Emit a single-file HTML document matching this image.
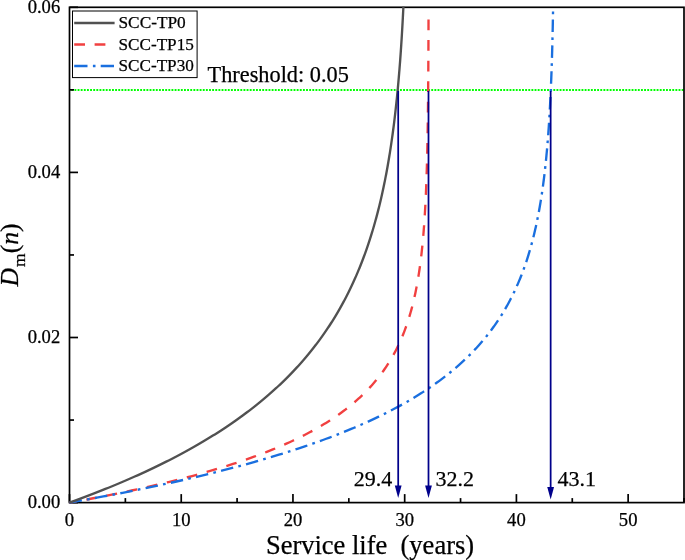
<!DOCTYPE html>
<html><head><meta charset="utf-8"><style>
html,body{margin:0;padding:0;background:#fff;}
svg{display:block;font-family:"Liberation Serif",serif;}
svg{will-change:transform;transform:translateZ(0);}
text{stroke:#000;stroke-width:0.25px;}
</style></head><body>
<svg width="685" height="560" viewBox="0 0 685 560">
<rect width="685" height="560" fill="#fff"/>
<line x1="69.5" x2="684.0" y1="90" y2="90" stroke="#00ff00" stroke-width="2" stroke-dasharray="1.9 1.23" stroke-dashoffset="1.32"/>
<g stroke="#000" stroke-width="1.7"><line x1="69.50" x2="69.50" y1="502.6" y2="494.1"/><line x1="125.36" x2="125.36" y1="502.6" y2="498.1"/><line x1="181.23" x2="181.23" y1="502.6" y2="494.1"/><line x1="237.09" x2="237.09" y1="502.6" y2="498.1"/><line x1="292.95" x2="292.95" y1="502.6" y2="494.1"/><line x1="348.82" x2="348.82" y1="502.6" y2="498.1"/><line x1="404.68" x2="404.68" y1="502.6" y2="494.1"/><line x1="460.55" x2="460.55" y1="502.6" y2="498.1"/><line x1="516.41" x2="516.41" y1="502.6" y2="494.1"/><line x1="572.27" x2="572.27" y1="502.6" y2="498.1"/><line x1="628.14" x2="628.14" y1="502.6" y2="494.1"/><line x1="684.00" x2="684.00" y1="502.6" y2="498.1"/><line x1="69.5" x2="78.0" y1="502.60" y2="502.60"/><line x1="69.5" x2="74.0" y1="420.05" y2="420.05"/><line x1="69.5" x2="78.0" y1="337.50" y2="337.50"/><line x1="69.5" x2="74.0" y1="254.95" y2="254.95"/><line x1="69.5" x2="78.0" y1="172.40" y2="172.40"/><line x1="69.5" x2="74.0" y1="89.85" y2="89.85"/><line x1="69.5" x2="78.0" y1="7.30" y2="7.30"/></g>
<rect x="69.5" y="7.3" width="614.5" height="495.3" fill="none" stroke="#000" stroke-width="1.7"/>
<g fill="none" stroke-width="2.35" stroke-linecap="butt" stroke-linejoin="round">
<path d="M69.50,502.60 L76.25,501.39 L82.88,500.18 L89.38,498.98 L95.76,497.77 L102.01,496.56 L108.15,495.35 L114.18,494.15 L120.09,492.94 L125.89,491.73 L131.58,490.52 L137.17,489.32 L142.65,488.11 L148.03,486.90 L153.30,485.69 L158.48,484.48 L163.56,483.28 L168.54,482.07 L173.43,480.86 L178.23,479.65 L182.94,478.45 L187.56,477.24 L192.09,476.03 L196.54,474.82 L200.90,473.62 L205.18,472.41 L209.38,471.20 L213.51,469.99 L217.55,468.78 L221.52,467.58 L225.41,466.37 L229.24,465.16 L232.98,463.95 L236.66,462.75 L240.27,461.54 L243.82,460.33 L247.29,459.12 L250.70,457.91 L254.05,456.71 L257.33,455.50 L260.55,454.29 L263.71,453.08 L266.81,451.88 L269.86,450.67 L272.84,449.46 L275.77,448.25 L278.65,447.05 L281.47,445.84 L284.23,444.63 L286.95,443.42 L289.61,442.21 L292.23,441.01 L294.79,439.80 L297.31,438.59 L299.78,437.38 L302.20,436.18 L304.58,434.97 L306.91,433.76 L309.20,432.55 L311.45,431.35 L313.65,430.14 L315.82,428.93 L317.94,427.72 L320.02,426.51 L322.06,425.31 L324.07,424.10 L326.03,422.89 L327.96,421.68 L329.86,420.48 L331.72,419.27 L333.54,418.06 L335.33,416.85 L337.08,415.65 L338.80,414.44 L340.49,413.23 L342.15,412.02 L343.78,410.81 L345.38,409.61 L346.94,408.40 L348.48,407.19 L349.99,405.98 L351.47,404.78 L352.92,403.57 L354.34,402.36 L355.74,401.15 L357.11,399.94 L358.46,398.74 L359.78,397.53 L361.07,396.32 L362.34,395.11 L363.59,393.91 L364.82,392.70 L366.02,391.49 L367.19,390.28 L368.35,389.08 L369.48,387.87 L370.60,386.66 L371.69,385.45 L372.76,384.24 L373.81,383.04 L374.85,381.83 L375.86,380.62 L376.85,379.41 L377.83,378.21 L378.78,377.00 L379.72,375.79 L380.64,374.58 L381.54,373.38 L382.43,372.17 L383.30,370.96 L384.15,369.75 L384.99,368.54 L385.81,367.34 L386.62,366.13 L387.41,364.92 L388.19,363.71 L388.95,362.51 L389.69,361.30 L390.43,360.09 L391.15,358.88 L391.85,357.68 L392.55,356.47 L393.23,355.26 L393.89,354.05 L394.55,352.84 L395.19,351.64 L395.82,350.43 L396.44,349.22 L397.04,348.01 L397.64,346.81 L398.22,345.60 L398.80,344.39 L399.36,343.18 L399.91,341.98 L400.45,340.77 L400.98,339.56 L401.50,338.35 L402.01,337.14 L402.52,335.94 L403.01,334.73 L403.49,333.52 L403.96,332.31 L404.43,331.11 L404.89,329.90 L405.33,328.69 L405.77,327.48 L406.20,326.27 L406.63,325.07 L407.04,323.86 L407.45,322.65 L407.85,321.44 L408.24,320.24 L408.62,319.03 L409.00,317.82 L409.37,316.61 L409.74,315.41 L410.09,314.20 L410.44,312.99 L410.79,311.78 L411.12,310.57 L411.45,309.37 L411.78,308.16 L412.10,306.95 L412.41,305.74 L412.71,304.54 L413.01,303.33 L413.31,302.12 L413.60,300.91 L413.88,299.71 L414.16,298.50 L414.43,297.29 L414.70,296.08 L414.97,294.87 L415.22,293.67 L415.48,292.46 L415.73,291.25 L415.97,290.04 L416.21,288.84 L416.44,287.63 L416.67,286.42 L416.90,285.21 L417.12,284.01 L417.34,282.80 L417.55,281.59 L417.76,280.38 L417.97,279.17 L418.17,277.97 L418.37,276.76 L418.56,275.55 L418.75,274.34 L418.94,273.14 L419.12,271.93 L419.30,270.72 L419.48,269.51 L419.65,268.30 L419.82,267.10 L419.99,265.89 L420.15,264.68 L420.32,263.47 L420.47,262.27 L420.63,261.06 L420.78,259.85 L420.93,258.64 L421.07,257.44 L421.22,256.23 L421.36,255.02 L421.50,253.81 L421.63,252.60 L421.77,251.40 L421.90,250.19 L422.02,248.98 L422.15,247.77 L422.27,246.57 L422.39,245.36 L422.51,244.15 L422.63,242.94 L422.74,241.74 L422.85,240.53 L422.96,239.32 L423.07,238.11 L423.18,236.90 L423.28,235.70 L423.38,234.49 L423.48,233.28 L423.58,232.07 L423.68,230.87 L423.77,229.66 L423.87,228.45 L423.96,227.24 L424.05,226.04 L424.13,224.83 L424.22,223.62 L424.30,222.41 L424.39,221.20 L424.47,220.00 L424.55,218.79 L424.62,217.58 L424.70,216.37 L424.78,215.17 L424.85,213.96 L424.92,212.75 L424.99,211.54 L425.06,210.34 L425.13,209.13 L425.20,207.92 L425.27,206.71 L425.33,205.50 L425.39,204.30 L425.46,203.09 L425.52,201.88 L425.58,200.67 L425.64,199.47 L425.69,198.26 L425.75,197.05 L425.80,195.84 L425.86,194.63 L425.91,193.43 L425.97,192.22 L426.02,191.01 L426.07,189.80 L426.12,188.60 L426.17,187.39 L426.21,186.18 L426.26,184.97 L426.31,183.77 L426.35,182.56 L426.40,181.35 L426.44,180.14 L426.48,178.93 L426.52,177.73 L426.56,176.52 L426.60,175.31 L426.64,174.10 L426.68,172.90 L426.72,171.69 L426.76,170.48 L426.79,169.27 L426.83,168.07 L426.87,166.86 L426.90,165.65 L426.93,164.44 L426.97,163.23 L427.00,162.03 L427.03,160.82 L427.06,159.61 L427.09,158.40 L427.12,157.20 L427.15,155.99 L427.18,154.78 L427.21,153.57 L427.24,152.37 L427.27,151.16 L427.29,149.95 L427.32,148.74 L427.35,147.53 L427.37,146.33 L427.40,145.12 L427.42,143.91 L427.45,142.70 L427.47,141.50 L427.49,140.29 L427.52,139.08 L427.54,137.87 L427.56,136.66 L427.58,135.46 L427.60,134.25 L427.62,133.04 L427.64,131.83 L427.66,130.63 L427.68,129.42 L427.70,128.21 L427.72,127.00 L427.74,125.80 L427.76,124.59 L427.77,123.38 L427.79,122.17 L427.81,120.96 L427.83,119.76 L427.84,118.55 L427.86,117.34 L427.87,116.13 L427.89,114.93 L427.91,113.72 L427.92,112.51 L427.94,111.30 L427.95,110.10 L427.96,108.89 L427.98,107.68 L427.99,106.47 L428.00,105.26 L428.02,104.06 L428.03,102.85 L428.04,101.64 L428.06,100.43 L428.07,99.23 L428.08,98.02 L428.09,96.81 L428.10,95.60 L428.11,94.40 L428.13,93.19 L428.14,91.98 L428.15,90.77 L428.16,89.56 L428.17,88.36 L428.18,87.15 L428.19,85.94 L428.20,84.73 L428.21,83.53 L428.22,82.32 L428.23,81.11 L428.23,79.90 L428.24,78.70 L428.25,77.49 L428.26,76.28 L428.27,75.07 L428.28,73.86 L428.28,72.66 L428.29,71.45 L428.30,70.24 L428.31,69.03 L428.32,67.83 L428.32,66.62 L428.33,65.41 L428.34,64.20 L428.34,62.99 L428.35,61.79 L428.36,60.58 L428.36,59.37 L428.37,58.16 L428.38,56.96 L428.38,55.75 L428.39,54.54 L428.39,53.33 L428.40,52.13 L428.41,50.92 L428.41,49.71 L428.42,48.50 L428.42,47.29 L428.43,46.09 L428.43,44.88 L428.44,43.67 L428.44,42.46 L428.45,41.26 L428.45,40.05 L428.46,38.84 L428.46,37.63 L428.47,36.43 L428.47,35.22 L428.48,34.01 L428.48,32.80 L428.48,31.59 L428.49,30.39 L428.49,29.18 L428.50,27.97 L428.50,26.76 L428.50,25.56 L428.51,24.35 L428.51,23.14 L428.51,21.93 L428.52,20.73 L428.52,19.52" stroke="#f14040" stroke-dasharray="10.74 9.84" stroke-dashoffset="3.47"/>
<path d="M69.50,502.60 L76.48,501.37 L83.36,500.14 L90.14,498.92 L96.82,497.69 L103.40,496.46 L109.89,495.23 L116.29,494.01 L122.60,492.78 L128.81,491.55 L134.94,490.32 L140.97,489.10 L146.92,487.87 L152.79,486.64 L158.57,485.41 L164.27,484.19 L169.88,482.96 L175.42,481.73 L180.87,480.50 L186.25,479.28 L191.54,478.05 L196.77,476.82 L201.91,475.59 L206.99,474.37 L211.99,473.14 L216.92,471.91 L221.77,470.68 L226.56,469.46 L231.28,468.23 L235.93,467.00 L240.52,465.77 L245.03,464.55 L249.49,463.32 L253.87,462.09 L258.20,460.86 L262.46,459.64 L266.67,458.41 L270.81,457.18 L274.89,455.95 L278.91,454.73 L282.88,453.50 L286.79,452.27 L290.64,451.04 L294.44,449.82 L298.18,448.59 L301.87,447.36 L305.50,446.13 L309.08,444.91 L312.62,443.68 L316.10,442.45 L319.53,441.22 L322.91,440.00 L326.24,438.77 L329.52,437.54 L332.76,436.31 L335.95,435.09 L339.10,433.86 L342.20,432.63 L345.25,431.40 L348.26,430.18 L351.23,428.95 L354.15,427.72 L357.04,426.49 L359.88,425.27 L362.68,424.04 L365.44,422.81 L368.16,421.58 L370.84,420.36 L373.48,419.13 L376.09,417.90 L378.66,416.67 L381.19,415.45 L383.68,414.22 L386.14,412.99 L388.56,411.76 L390.95,410.54 L393.30,409.31 L395.62,408.08 L397.91,406.85 L400.16,405.63 L402.38,404.40 L404.57,403.17 L406.73,401.94 L408.85,400.72 L410.95,399.49 L413.02,398.26 L415.05,397.03 L417.06,395.81 L419.04,394.58 L420.99,393.35 L422.91,392.12 L424.80,390.90 L426.67,389.67 L428.51,388.44 L430.32,387.21 L432.11,385.99 L433.87,384.76 L435.60,383.53 L437.31,382.30 L439.00,381.08 L440.66,379.85 L442.30,378.62 L443.91,377.39 L445.51,376.17 L447.07,374.94 L448.62,373.71 L450.14,372.48 L451.65,371.26 L453.13,370.03 L454.58,368.80 L456.02,367.57 L457.44,366.35 L458.84,365.12 L460.21,363.89 L461.57,362.66 L462.91,361.44 L464.22,360.21 L465.52,358.98 L466.80,357.75 L468.07,356.53 L469.31,355.30 L470.54,354.07 L471.74,352.84 L472.93,351.62 L474.11,350.39 L475.27,349.16 L476.41,347.93 L477.53,346.71 L478.64,345.48 L479.73,344.25 L480.80,343.02 L481.86,341.80 L482.91,340.57 L483.94,339.34 L484.96,338.11 L485.96,336.89 L486.94,335.66 L487.92,334.43 L488.87,333.20 L489.82,331.97 L490.75,330.75 L491.67,329.52 L492.57,328.29 L493.46,327.06 L494.34,325.84 L495.21,324.61 L496.06,323.38 L496.90,322.15 L497.73,320.93 L498.55,319.70 L499.35,318.47 L500.14,317.24 L500.93,316.02 L501.70,314.79 L502.46,313.56 L503.21,312.33 L503.94,311.11 L504.67,309.88 L505.39,308.65 L506.10,307.42 L506.79,306.20 L507.48,304.97 L508.16,303.74 L508.82,302.51 L509.48,301.29 L510.13,300.06 L510.77,298.83 L511.40,297.60 L512.02,296.38 L512.63,295.15 L513.23,293.92 L513.82,292.69 L514.41,291.47 L514.99,290.24 L515.56,289.01 L516.12,287.78 L516.67,286.56 L517.21,285.33 L517.75,284.10 L518.28,282.87 L518.80,281.65 L519.31,280.42 L519.82,279.19 L520.32,277.96 L520.81,276.74 L521.30,275.51 L521.77,274.28 L522.24,273.05 L522.71,271.83 L523.17,270.60 L523.62,269.37 L524.06,268.14 L524.50,266.92 L524.93,265.69 L525.36,264.46 L525.78,263.23 L526.19,262.01 L526.60,260.78 L527.00,259.55 L527.39,258.32 L527.78,257.10 L528.17,255.87 L528.55,254.64 L528.92,253.41 L529.29,252.19 L529.65,250.96 L530.01,249.73 L530.36,248.50 L530.71,247.28 L531.05,246.05 L531.39,244.82 L531.72,243.59 L532.05,242.37 L532.37,241.14 L532.69,239.91 L533.01,238.68 L533.32,237.46 L533.62,236.23 L533.92,235.00 L534.22,233.77 L534.51,232.55 L534.80,231.32 L535.08,230.09 L535.36,228.86 L535.64,227.64 L535.91,226.41 L536.18,225.18 L536.44,223.95 L536.70,222.73 L536.96,221.50 L537.21,220.27 L537.46,219.04 L537.70,217.82 L537.94,216.59 L538.18,215.36 L538.42,214.13 L538.65,212.91 L538.88,211.68 L539.10,210.45 L539.32,209.22 L539.54,208.00 L539.76,206.77 L539.97,205.54 L540.18,204.31 L540.38,203.09 L540.59,201.86 L540.79,200.63 L540.99,199.40 L541.18,198.18 L541.37,196.95 L541.56,195.72 L541.75,194.49 L541.93,193.27 L542.11,192.04 L542.29,190.81 L542.47,189.58 L542.64,188.36 L542.81,187.13 L542.98,185.90 L543.14,184.67 L543.31,183.45 L543.47,182.22 L543.63,180.99 L543.78,179.76 L543.94,178.54 L544.09,177.31 L544.24,176.08 L544.39,174.85 L544.53,173.63 L544.68,172.40 L544.82,171.17 L544.96,169.94 L545.10,168.71 L545.23,167.49 L545.36,166.26 L545.50,165.03 L545.63,163.80 L545.75,162.58 L545.88,161.35 L546.00,160.12 L546.13,158.89 L546.25,157.67 L546.37,156.44 L546.48,155.21 L546.60,153.98 L546.71,152.76 L546.82,151.53 L546.93,150.30 L547.04,149.07 L547.15,147.85 L547.26,146.62 L547.36,145.39 L547.46,144.16 L547.57,142.94 L547.67,141.71 L547.76,140.48 L547.86,139.25 L547.96,138.03 L548.05,136.80 L548.14,135.57 L548.24,134.34 L548.33,133.12 L548.41,131.89 L548.50,130.66 L548.59,129.43 L548.67,128.21 L548.76,126.98 L548.84,125.75 L548.92,124.52 L549.00,123.30 L549.08,122.07 L549.16,120.84 L549.24,119.61 L549.31,118.39 L549.39,117.16 L549.46,115.93 L549.53,114.70 L549.61,113.48 L549.68,112.25 L549.75,111.02 L549.81,109.79 L549.88,108.57 L549.95,107.34 L550.01,106.11 L550.08,104.88 L550.14,103.66 L550.20,102.43 L550.27,101.20 L550.33,99.97 L550.39,98.75 L550.45,97.52 L550.51,96.29 L550.56,95.06 L550.62,93.84 L550.68,92.61 L550.73,91.38 L550.79,90.15 L550.84,88.93 L550.89,87.70 L550.94,86.47 L551.00,85.24 L551.05,84.02 L551.10,82.79 L551.14,81.56 L551.19,80.33 L551.24,79.11 L551.29,77.88 L551.33,76.65 L551.38,75.42 L551.42,74.20 L551.47,72.97 L551.51,71.74 L551.56,70.51 L551.60,69.29 L551.64,68.06 L551.68,66.83 L551.72,65.60 L551.76,64.38 L551.80,63.15 L551.84,61.92 L551.88,60.69 L551.92,59.47 L551.95,58.24 L551.99,57.01 L552.03,55.78 L552.06,54.56 L552.10,53.33 L552.13,52.10 L552.17,50.87 L552.20,49.65 L552.23,48.42 L552.27,47.19 L552.30,45.96 L552.33,44.74 L552.36,43.51 L552.39,42.28 L552.42,41.05 L552.45,39.83 L552.48,38.60 L552.51,37.37 L552.54,36.14 L552.57,34.92 L552.60,33.69 L552.62,32.46 L552.65,31.23 L552.68,30.01 L552.70,28.78 L552.73,27.55 L552.76,26.32 L552.78,25.10 L552.81,23.87 L552.83,22.64 L552.85,21.41 L552.88,20.19 L552.90,18.96 L552.93,17.73 L552.95,16.50 L552.97,15.28 L552.99,14.05 L553.01,12.82 L553.04,11.59" stroke="#1a6fdf" stroke-dasharray="12.51 5.31 2.68 5.31" stroke-dashoffset="25.77"/>
</g>
<path d="M69.50,502.60 L72.93,501.36 L76.33,500.12 L79.69,498.88 L83.02,497.64 L86.32,496.40 L89.58,495.16 L92.81,493.92 L96.00,492.68 L99.17,491.44 L102.30,490.20 L105.40,488.96 L108.47,487.72 L111.51,486.48 L114.52,485.24 L117.49,484.00 L120.44,482.75 L123.36,481.51 L126.24,480.27 L129.10,479.03 L131.93,477.79 L134.73,476.55 L137.51,475.31 L140.25,474.07 L142.97,472.83 L145.66,471.59 L148.32,470.35 L150.96,469.11 L153.57,467.87 L156.15,466.63 L158.71,465.39 L161.24,464.15 L163.74,462.91 L166.22,461.67 L168.68,460.43 L171.11,459.19 L173.51,457.95 L175.89,456.71 L178.25,455.47 L180.58,454.23 L182.89,452.99 L185.18,451.75 L187.44,450.51 L189.68,449.27 L191.90,448.03 L194.10,446.79 L196.27,445.55 L198.42,444.31 L200.55,443.06 L202.66,441.82 L204.75,440.58 L206.81,439.34 L208.86,438.10 L210.88,436.86 L212.89,435.62 L214.87,434.38 L216.83,433.14 L218.78,431.90 L220.70,430.66 L222.60,429.42 L224.49,428.18 L226.36,426.94 L228.20,425.70 L230.03,424.46 L231.84,423.22 L233.64,421.98 L235.41,420.74 L237.17,419.50 L238.90,418.26 L240.62,417.02 L242.33,415.78 L244.01,414.54 L245.68,413.30 L247.34,412.06 L248.97,410.82 L250.59,409.58 L252.19,408.34 L253.78,407.10 L255.35,405.86 L256.90,404.62 L258.44,403.37 L259.97,402.13 L261.47,400.89 L262.97,399.65 L264.44,398.41 L265.91,397.17 L267.36,395.93 L268.79,394.69 L270.21,393.45 L271.61,392.21 L273.00,390.97 L274.38,389.73 L275.74,388.49 L277.09,387.25 L278.43,386.01 L279.75,384.77 L281.05,383.53 L282.35,382.29 L283.63,381.05 L284.90,379.81 L286.16,378.57 L287.40,377.33 L288.63,376.09 L289.85,374.85 L291.06,373.61 L292.25,372.37 L293.43,371.13 L294.60,369.89 L295.76,368.65 L296.91,367.41 L298.04,366.17 L299.16,364.93 L300.28,363.68 L301.38,362.44 L302.47,361.20 L303.55,359.96 L304.61,358.72 L305.67,357.48 L306.72,356.24 L307.75,355.00 L308.78,353.76 L309.79,352.52 L310.80,351.28 L311.79,350.04 L312.78,348.80 L313.75,347.56 L314.72,346.32 L315.67,345.08 L316.62,343.84 L317.55,342.60 L318.48,341.36 L319.40,340.12 L320.30,338.88 L321.20,337.64 L322.09,336.40 L322.97,335.16 L323.84,333.92 L324.71,332.68 L325.56,331.44 L326.41,330.20 L327.24,328.96 L328.07,327.72 L328.89,326.48 L329.70,325.24 L330.51,323.99 L331.30,322.75 L332.09,321.51 L332.87,320.27 L333.64,319.03 L334.40,317.79 L335.16,316.55 L335.91,315.31 L336.65,314.07 L337.38,312.83 L338.11,311.59 L338.83,310.35 L339.54,309.11 L340.24,307.87 L340.94,306.63 L341.63,305.39 L342.31,304.15 L342.99,302.91 L343.66,301.67 L344.32,300.43 L344.98,299.19 L345.63,297.95 L346.27,296.71 L346.91,295.47 L347.54,294.23 L348.16,292.99 L348.78,291.75 L349.39,290.51 L349.99,289.27 L350.59,288.03 L351.18,286.79 L351.77,285.55 L352.35,284.30 L352.93,283.06 L353.50,281.82 L354.06,280.58 L354.62,279.34 L355.17,278.10 L355.71,276.86 L356.26,275.62 L356.79,274.38 L357.32,273.14 L357.85,271.90 L358.36,270.66 L358.88,269.42 L359.39,268.18 L359.89,266.94 L360.39,265.70 L360.88,264.46 L361.37,263.22 L361.86,261.98 L362.34,260.74 L362.81,259.50 L363.28,258.26 L363.74,257.02 L364.20,255.78 L364.66,254.54 L365.11,253.30 L365.55,252.06 L366.00,250.82 L366.43,249.58 L366.87,248.34 L367.29,247.10 L367.72,245.86 L368.14,244.61 L368.55,243.37 L368.96,242.13 L369.37,240.89 L369.77,239.65 L370.17,238.41 L370.57,237.17 L370.96,235.93 L371.35,234.69 L371.73,233.45 L372.11,232.21 L372.48,230.97 L372.85,229.73 L373.22,228.49 L373.59,227.25 L373.95,226.01 L374.30,224.77 L374.66,223.53 L375.01,222.29 L375.35,221.05 L375.69,219.81 L376.03,218.57 L376.37,217.33 L376.70,216.09 L377.03,214.85 L377.36,213.61 L377.68,212.37 L378.00,211.13 L378.31,209.89 L378.63,208.65 L378.93,207.41 L379.24,206.17 L379.54,204.92 L379.84,203.68 L380.14,202.44 L380.44,201.20 L380.73,199.96 L381.02,198.72 L381.30,197.48 L381.58,196.24 L381.86,195.00 L382.14,193.76 L382.41,192.52 L382.68,191.28 L382.95,190.04 L383.22,188.80 L383.48,187.56 L383.74,186.32 L384.00,185.08 L384.26,183.84 L384.51,182.60 L384.76,181.36 L385.01,180.12 L385.25,178.88 L385.49,177.64 L385.73,176.40 L385.97,175.16 L386.21,173.92 L386.44,172.68 L386.67,171.44 L386.90,170.20 L387.12,168.96 L387.35,167.72 L387.57,166.47 L387.79,165.23 L388.00,163.99 L388.22,162.75 L388.43,161.51 L388.64,160.27 L388.85,159.03 L389.06,157.79 L389.26,156.55 L389.46,155.31 L389.66,154.07 L389.86,152.83 L390.06,151.59 L390.25,150.35 L390.44,149.11 L390.63,147.87 L390.82,146.63 L391.01,145.39 L391.19,144.15 L391.37,142.91 L391.55,141.67 L391.73,140.43 L391.91,139.19 L392.09,137.95 L392.26,136.71 L392.43,135.47 L392.60,134.23 L392.77,132.99 L392.94,131.75 L393.10,130.51 L393.26,129.27 L393.43,128.03 L393.59,126.78 L393.74,125.54 L393.90,124.30 L394.06,123.06 L394.21,121.82 L394.36,120.58 L394.51,119.34 L394.66,118.10 L394.81,116.86 L394.95,115.62 L395.10,114.38 L395.24,113.14 L395.38,111.90 L395.52,110.66 L395.66,109.42 L395.80,108.18 L395.94,106.94 L396.07,105.70 L396.20,104.46 L396.34,103.22 L396.47,101.98 L396.60,100.74 L396.72,99.50 L396.85,98.26 L396.98,97.02 L397.10,95.78 L397.22,94.54 L397.34,93.30 L397.46,92.06 L397.58,90.82 L397.70,89.58 L397.82,88.34 L397.93,87.09 L398.05,85.85 L398.16,84.61 L398.27,83.37 L398.38,82.13 L398.49,80.89 L398.60,79.65 L398.71,78.41 L398.82,77.17 L398.92,75.93 L399.03,74.69 L399.13,73.45 L399.23,72.21 L399.33,70.97 L399.44,69.73 L399.53,68.49 L399.63,67.25 L399.73,66.01 L399.83,64.77 L399.92,63.53 L400.02,62.29 L400.11,61.05 L400.20,59.81 L400.29,58.57 L400.38,57.33 L400.47,56.09 L400.56,54.85 L400.65,53.61 L400.74,52.37 L400.82,51.13 L400.91,49.89 L400.99,48.65 L401.08,47.40 L401.16,46.16 L401.24,44.92 L401.32,43.68 L401.40,42.44 L401.48,41.20 L401.56,39.96 L401.64,38.72 L401.71,37.48 L401.79,36.24 L401.87,35.00 L401.94,33.76 L402.02,32.52 L402.09,31.28 L402.16,30.04 L402.23,28.80 L402.30,27.56 L402.37,26.32 L402.44,25.08 L402.51,23.84 L402.58,22.60 L402.65,21.36 L402.71,20.12 L402.78,18.88 L402.85,17.64 L402.91,16.40 L402.98,15.16 L403.04,13.92 L403.10,12.68 L403.16,11.44 L403.23,10.20 L403.29,8.96 L403.35,7.71 L403.41,6.47" stroke="#515151" fill="none" stroke-width="2.35" stroke-linejoin="round"/>
<line x1="398.20" x2="398.20" y1="91" y2="487.6" stroke="#00008b" stroke-width="1.75"/><path d="M394.80,485.6 L401.60,485.6 L398.20,497.9 Z" fill="#00008b"/><line x1="428.50" x2="428.50" y1="91" y2="487.6" stroke="#00008b" stroke-width="1.75"/><path d="M425.10,485.6 L431.90,485.6 L428.50,497.9 Z" fill="#00008b"/><line x1="550.65" x2="550.65" y1="91" y2="488.9" stroke="#00008b" stroke-width="1.75"/><path d="M547.25,486.9 L554.05,486.9 L550.65,499.5 Z" fill="#00008b"/>
<g font-size="18.6px" fill="#000"><text x="69.50" y="525.7" text-anchor="middle">0</text><text x="181.23" y="525.7" text-anchor="middle">10</text><text x="292.95" y="525.7" text-anchor="middle">20</text><text x="404.68" y="525.7" text-anchor="middle">30</text><text x="516.41" y="525.7" text-anchor="middle">40</text><text x="628.14" y="525.7" text-anchor="middle">50</text><text x="60.2" y="508.20" text-anchor="end">0.00</text><text x="60.2" y="343.10" text-anchor="end">0.02</text><text x="60.2" y="178.00" text-anchor="end">0.04</text><text x="60.2" y="12.90" text-anchor="end">0.06</text></g>
<rect x="72.5" y="11" width="124.6" height="66.6" fill="#fff" stroke="#000" stroke-width="1"/>
<g stroke-width="2.5" fill="none">
<line x1="74.2" x2="114.6" y1="23" y2="23" stroke="#515151"/>
<line x1="74.2" x2="114.6" y1="44.6" y2="44.6" stroke="#f14040" stroke-dasharray="10.8 9.6"/>
<line x1="74.2" x2="114.6" y1="66" y2="66" stroke="#1a6fdf" stroke-dasharray="13.3 5.4 2.6 5.2"/>
</g>
<g font-size="17.3px" fill="#000">
<text x="118.5" y="28.2">SCC-TP0</text>
<text x="118.5" y="49.7" textLength="75.3" lengthAdjust="spacingAndGlyphs">SCC-TP15</text>
<text x="118.5" y="71.2" textLength="75.3" lengthAdjust="spacingAndGlyphs">SCC-TP30</text>
</g>
<text x="207.6" y="82.1" font-size="22.3px">Threshold: 0.05</text>
<g font-size="22px">
<text x="392.2" y="486.2" text-anchor="end">29.4</text>
<text x="435.5" y="486.2">32.2</text>
<text x="557.4" y="486.2">43.1</text>
</g>
<text x="370" y="553.6" font-size="26.5px" text-anchor="middle" xml:space="preserve">Service life  (years)</text>
<text transform="translate(17.6,255.0) rotate(-90)" font-size="25.6px" stroke="#000" stroke-width="0.3" text-anchor="middle"><tspan font-style="italic">D</tspan><tspan font-size="17.5px" dy="7.6" dx="1.2">m</tspan><tspan dy="-7.6">(</tspan><tspan font-style="italic">n</tspan>)</text>
</svg>
</body></html>
